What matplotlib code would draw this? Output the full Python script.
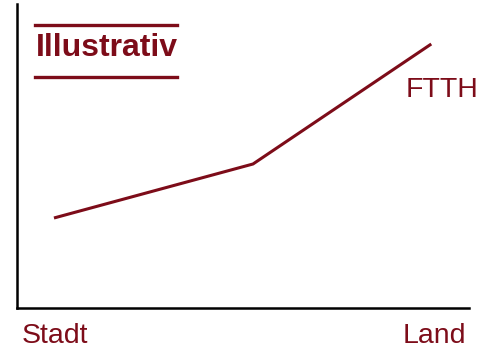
import matplotlib
matplotlib.use("Agg")
import matplotlib.pyplot as plt

# Data
x_positions = [0, 1.055, 2]
ftth_values = [90, 144, 264]
x_tick_labels = ["Stadt", "Land"]
series_label = "FTTH"
badge_text = "Illustrativ"

color = "#7d0c19"
plt.rcParams['font.family'] = ['Liberation Sans', 'DejaVu Sans']

fig = plt.figure(figsize=(4.96, 3.48), dpi=100)
ax = fig.add_axes([17/496, 40/348, 452/496, 304/348])
ax.plot(x_positions, ftth_values, color=color, lw=2.2, solid_capstyle='butt')
ax.set_xlim(-0.196, 2.20)
ax.set_ylim(0, 304)
for s in ['top', 'right']:
    ax.spines[s].set_visible(False)
for s in ['left', 'bottom']:
    ax.spines[s].set_linewidth(1.8)
    ax.spines[s].set_color('black')
ax.set_yticks([])
ax.set_xticks([])

# category labels
fig.text(22/496, 1-336/348, x_tick_labels[0], ha='left', va='center', fontsize=20.5, color=color)
fig.text(466/496, 1-336/348, x_tick_labels[1], ha='right', va='center', fontsize=20.5, color=color)

# series label
fig.text(479/496, 1-90/348, series_label, ha='right', va='center', fontsize=20.5, color=color)

# badge
fig.text(36/496, 1-48/348, badge_text, ha='left', va='center', fontsize=23,
         fontweight='bold', color=color)
for yl in [24.5, 76.5]:
    fig.add_artist(plt.Line2D([35/496, 177/496], [1-yl/348, 1-yl/348],
                              transform=fig.transFigure, color=color, lw=2.4))

fig.savefig("out.png", dpi=100)
